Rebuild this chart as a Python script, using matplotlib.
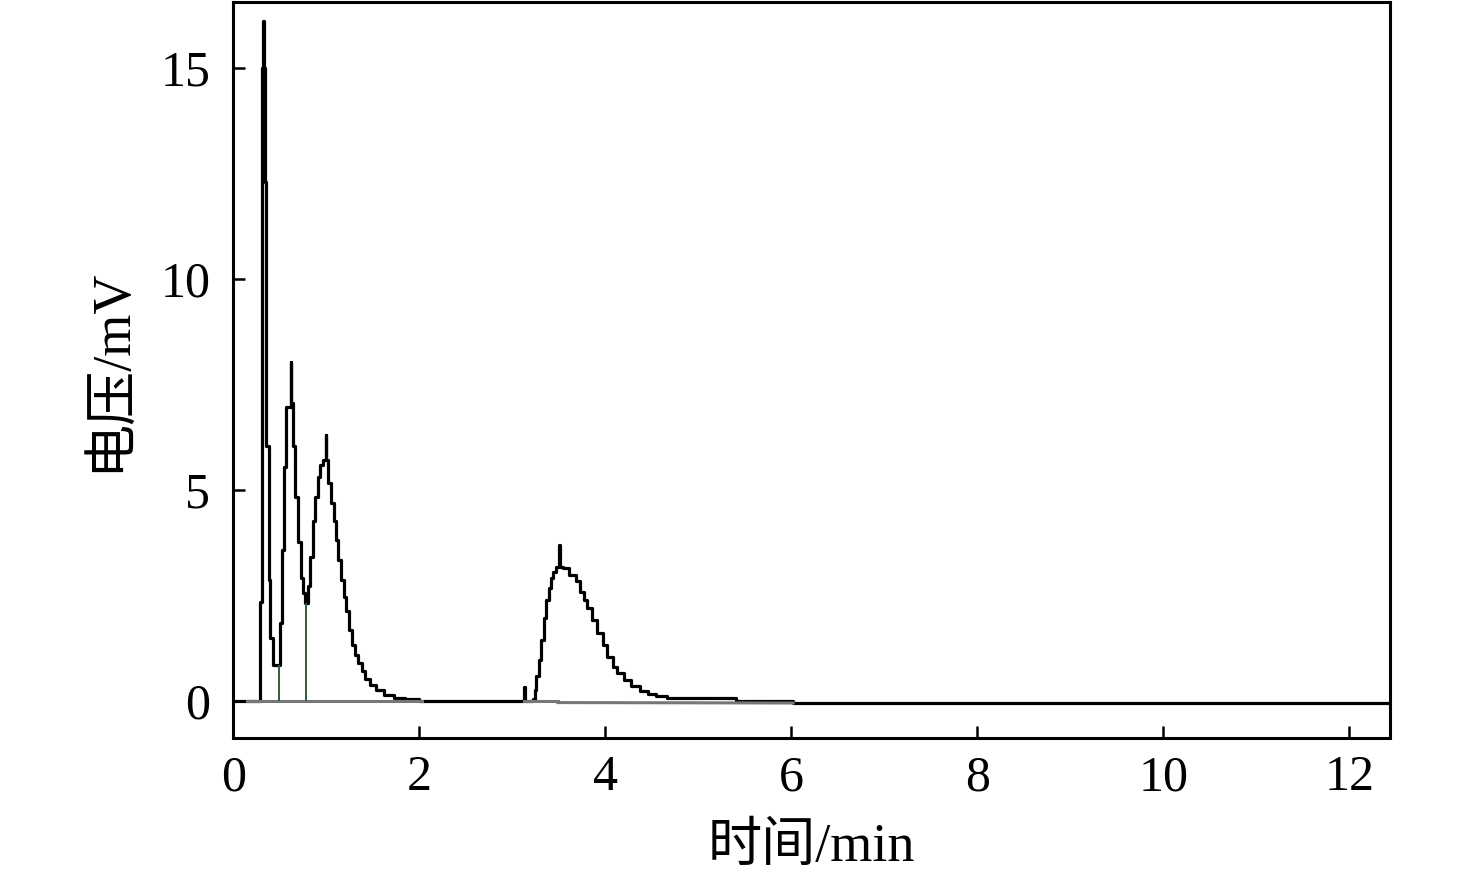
import matplotlib
matplotlib.use("Agg")
import matplotlib.pyplot as plt

plt.rcParams['font.family'] = ['Liberation Serif', 'Noto Sans CJK SC', 'DejaVu Sans']

# chromatogram trace (time in min, voltage in mV)
time = [0.0, 0.283, 0.308, 0.322, 0.330, 0.344, 0.356, 0.385, 0.400, 0.425,
        0.498, 0.523, 0.548, 0.570, 0.620, 0.626, 0.642, 0.660, 0.700, 0.725,
        0.750, 0.770, 0.800, 0.830, 0.855, 0.880, 0.910, 0.935, 0.960, 0.995,
        1.002, 1.020, 1.050, 1.080, 1.105, 1.130, 1.160, 1.190, 1.215, 1.245,
        1.275, 1.310, 1.345, 1.380, 1.420, 1.470, 1.530, 1.620, 1.730, 1.850,
        2.000, 3.130, 3.136, 3.220, 3.240, 3.260, 3.290, 3.310, 3.340, 3.360,
        3.390, 3.420, 3.440, 3.470, 3.505, 3.515, 3.550, 3.610, 3.680, 3.730,
        3.770, 3.800, 3.860, 3.910, 3.970, 4.020, 4.080, 4.130, 4.200, 4.280,
        4.370, 4.460, 4.550, 4.660, 5.360, 5.400, 6.020, 12.44]
voltage = [0.0, 2.35, 15.0, 16.1, 15.0, 12.3, 6.03, 2.87, 1.49, 0.85,
           1.85, 3.58, 5.55, 6.97, 8.02, 7.05, 6.03, 4.84, 3.77, 2.91,
           2.55, 2.32, 2.71, 3.42, 4.25, 4.84, 5.31, 5.59, 5.71, 6.30,
           5.71, 5.16, 4.69, 4.25, 3.81, 3.34, 2.87, 2.47, 2.12, 1.68,
           1.33, 1.09, 0.89, 0.70, 0.52, 0.37, 0.25, 0.15, 0.08, 0.04,
           0.0, 0.34, 0.0, 0.05, 0.26, 0.58, 0.97, 1.45, 1.97, 2.39,
           2.67, 2.91, 3.06, 3.18, 3.70, 3.18, 3.14, 2.99, 2.83, 2.59,
           2.39, 2.20, 1.92, 1.60, 1.33, 1.05, 0.81, 0.66, 0.50, 0.36,
           0.24, 0.17, 0.12, 0.06, 0.08, -0.01, -0.06, -0.06]

# integration baselines and peak split lines
base_x = [[0.15, 2.03], [3.13, 3.49], [3.49, 6.02]]
base_y = [[0.0, 0.0], [0.0, 0.0], [-0.04, -0.05]]
split_x = [0.487, 0.778]
split_top = [0.85, 2.32]

fig = plt.figure(figsize=(14.76, 8.86), dpi=100)
ax = fig.add_axes([0.158, 0.167, 0.784, 0.831])

ax.plot(time, voltage, drawstyle='steps-post', color='black', lw=2.3, zorder=3)
for bx, by in zip(base_x, base_y):
    ax.plot(bx, by, color='#777777', lw=2.2, zorder=4)
ax.vlines(split_x, 0, split_top, color='#2e5e3a', lw=1.4, zorder=4)

ax.set_xlim(0, 12.44)
ax.set_ylim(-0.88, 16.56)
ax.set_xticks([0, 2, 4, 6, 8, 10, 12])
ax.set_yticks([0, 5, 10, 15])

ax.tick_params(direction='in', length=8.5, width=1.8, labelsize=36,
               top=False, right=False)
ax.tick_params(axis='y', pad=16.5)
ax.tick_params(axis='x', pad=12)
for s in ax.spines.values():
    s.set_linewidth(2.2)

ax.set_xlabel('时间/min', fontsize=39)
ax.set_ylabel('电压/mV', fontsize=39)
ax.xaxis.set_label_coords(0.5, -0.115)
ax.yaxis.set_label_coords(-0.083, 0.5)

fig.savefig('out.png', dpi=100)
